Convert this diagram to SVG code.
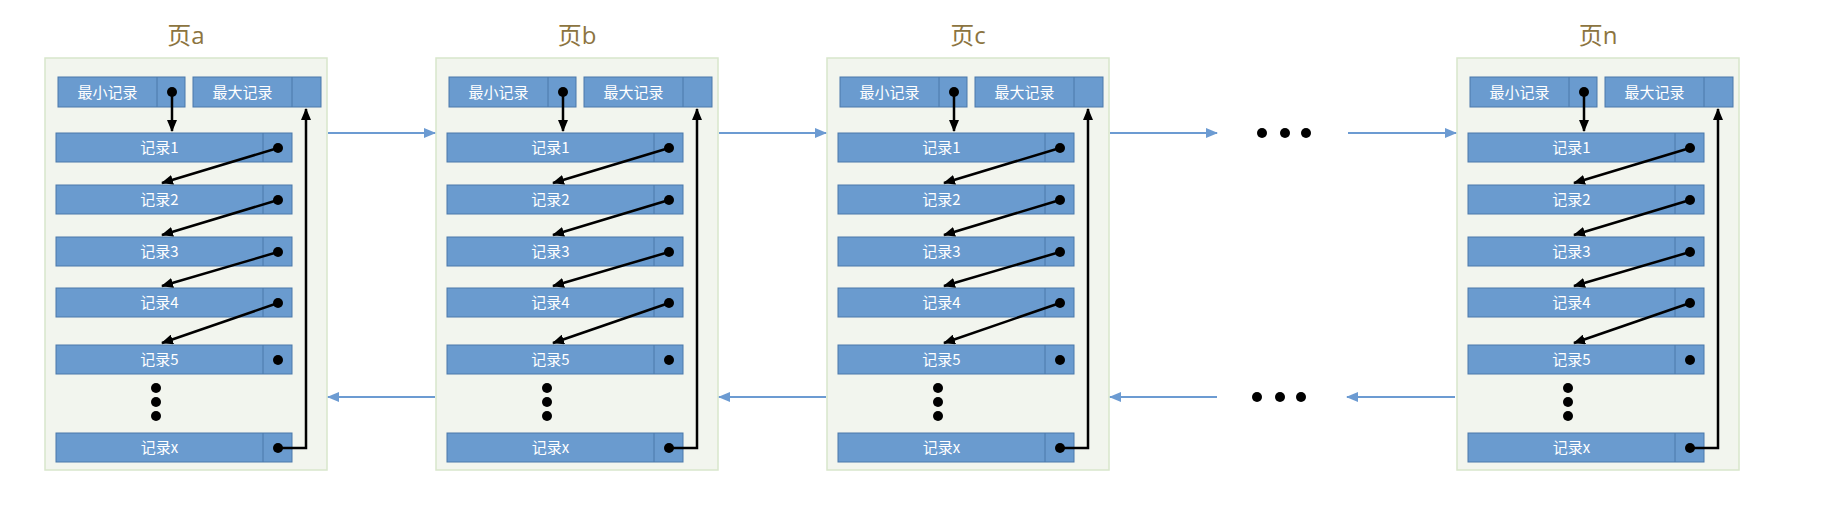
<svg xmlns="http://www.w3.org/2000/svg" width="1828" height="520" viewBox="0 0 1828 520">
<style>
.page{fill:#F2F5EE;stroke:#D8E6CB;stroke-width:1.5}
.title{font-family:"Open Sans","Noto Sans CJK SC",sans-serif;font-size:24px;fill:#8C7440;text-anchor:middle}
.box{fill:#6A9BCF;stroke:#4A78AA;stroke-width:1}
.div{stroke:#4A78AA;stroke-width:1}
.lbl{font-family:"Noto Sans CJK SC",sans-serif;font-size:15px;fill:#FFFFFF;text-anchor:middle}
.dot{fill:#000}
.ptr{stroke:#000;stroke-width:2.5;fill:none;marker-end:url(#ah)}
.link{stroke:#6C9BD2;stroke-width:2;fill:none;marker-end:url(#bh)}
</style>
<defs>
<marker id="ah" markerWidth="12" markerHeight="10" refX="11" refY="5" orient="auto" markerUnits="userSpaceOnUse"><path d="M0,0 L12,5 L0,10 z" fill="#000"/></marker>
<marker id="bh" markerWidth="12" markerHeight="10" refX="11" refY="5" orient="auto" markerUnits="userSpaceOnUse"><path d="M0,0 L12,5 L0,10 z" fill="#6C9BD2"/></marker>
</defs>
<rect width="1828" height="520" fill="#FFFFFF"/>

<g id="page-a" transform="translate(45,0)">
<rect class="page" x="0" y="58" width="282" height="412"/>
<text class="title" x="141" y="44">页a</text>
<g id="a-min"><rect class="box" x="13" y="77" width="127" height="30"/><line class="div" x1="112" y1="77" x2="112" y2="107"/><text class="lbl" x="62.5" y="97.5">最小记录</text><circle class="dot" cx="127" cy="92" r="5"/></g>
<g id="a-max"><rect class="box" x="148" y="77" width="128" height="30"/><line class="div" x1="247" y1="77" x2="247" y2="107"/><text class="lbl" x="197.5" y="97.5">最大记录</text></g>
<g id="a-r1"><rect class="box" x="11" y="133" width="236" height="29"/><line class="div" x1="218" y1="133" x2="218" y2="162"/><text class="lbl" x="114.5" y="153">记录1</text><circle class="dot" cx="233" cy="148" r="5"/></g>
<g id="a-r2"><rect class="box" x="11" y="185" width="236" height="29"/><line class="div" x1="218" y1="185" x2="218" y2="214"/><text class="lbl" x="114.5" y="205">记录2</text><circle class="dot" cx="233" cy="200" r="5"/></g>
<g id="a-r3"><rect class="box" x="11" y="237" width="236" height="29"/><line class="div" x1="218" y1="237" x2="218" y2="266"/><text class="lbl" x="114.5" y="257">记录3</text><circle class="dot" cx="233" cy="252" r="5"/></g>
<g id="a-r4"><rect class="box" x="11" y="288" width="236" height="29"/><line class="div" x1="218" y1="288" x2="218" y2="317"/><text class="lbl" x="114.5" y="308">记录4</text><circle class="dot" cx="233" cy="303" r="5"/></g>
<g id="a-r5"><rect class="box" x="11" y="345" width="236" height="29"/><line class="div" x1="218" y1="345" x2="218" y2="374"/><text class="lbl" x="114.5" y="365">记录5</text><circle class="dot" cx="233" cy="360" r="5"/></g>
<g id="a-more"><circle class="dot" cx="111" cy="388" r="5"/><circle class="dot" cx="111" cy="402" r="5"/><circle class="dot" cx="111" cy="416" r="5"/></g>
<g id="a-rx"><rect class="box" x="11" y="433" width="236" height="29"/><line class="div" x1="218" y1="433" x2="218" y2="462"/><text class="lbl" x="114.5" y="453">记录x</text><circle class="dot" cx="233" cy="448" r="5"/></g>
<g id="a-ptrs">
<line class="ptr" x1="127" y1="92" x2="127" y2="131"/>
<line class="ptr" x1="233" y1="148" x2="117" y2="183"/>
<line class="ptr" x1="233" y1="200" x2="117" y2="235"/>
<line class="ptr" x1="233" y1="252" x2="117" y2="286"/>
<line class="ptr" x1="233" y1="303" x2="117" y2="343"/>
<path class="ptr" d="M233,448 H261 V109"/>
</g>
</g>

<g id="page-b" transform="translate(436,0)">
<rect class="page" x="0" y="58" width="282" height="412"/>
<text class="title" x="141" y="44">页b</text>
<g id="b-min"><rect class="box" x="13" y="77" width="127" height="30"/><line class="div" x1="112" y1="77" x2="112" y2="107"/><text class="lbl" x="62.5" y="97.5">最小记录</text><circle class="dot" cx="127" cy="92" r="5"/></g>
<g id="b-max"><rect class="box" x="148" y="77" width="128" height="30"/><line class="div" x1="247" y1="77" x2="247" y2="107"/><text class="lbl" x="197.5" y="97.5">最大记录</text></g>
<g id="b-r1"><rect class="box" x="11" y="133" width="236" height="29"/><line class="div" x1="218" y1="133" x2="218" y2="162"/><text class="lbl" x="114.5" y="153">记录1</text><circle class="dot" cx="233" cy="148" r="5"/></g>
<g id="b-r2"><rect class="box" x="11" y="185" width="236" height="29"/><line class="div" x1="218" y1="185" x2="218" y2="214"/><text class="lbl" x="114.5" y="205">记录2</text><circle class="dot" cx="233" cy="200" r="5"/></g>
<g id="b-r3"><rect class="box" x="11" y="237" width="236" height="29"/><line class="div" x1="218" y1="237" x2="218" y2="266"/><text class="lbl" x="114.5" y="257">记录3</text><circle class="dot" cx="233" cy="252" r="5"/></g>
<g id="b-r4"><rect class="box" x="11" y="288" width="236" height="29"/><line class="div" x1="218" y1="288" x2="218" y2="317"/><text class="lbl" x="114.5" y="308">记录4</text><circle class="dot" cx="233" cy="303" r="5"/></g>
<g id="b-r5"><rect class="box" x="11" y="345" width="236" height="29"/><line class="div" x1="218" y1="345" x2="218" y2="374"/><text class="lbl" x="114.5" y="365">记录5</text><circle class="dot" cx="233" cy="360" r="5"/></g>
<g id="b-more"><circle class="dot" cx="111" cy="388" r="5"/><circle class="dot" cx="111" cy="402" r="5"/><circle class="dot" cx="111" cy="416" r="5"/></g>
<g id="b-rx"><rect class="box" x="11" y="433" width="236" height="29"/><line class="div" x1="218" y1="433" x2="218" y2="462"/><text class="lbl" x="114.5" y="453">记录x</text><circle class="dot" cx="233" cy="448" r="5"/></g>
<g id="b-ptrs">
<line class="ptr" x1="127" y1="92" x2="127" y2="131"/>
<line class="ptr" x1="233" y1="148" x2="117" y2="183"/>
<line class="ptr" x1="233" y1="200" x2="117" y2="235"/>
<line class="ptr" x1="233" y1="252" x2="117" y2="286"/>
<line class="ptr" x1="233" y1="303" x2="117" y2="343"/>
<path class="ptr" d="M233,448 H261 V109"/>
</g>
</g>

<g id="page-c" transform="translate(827,0)">
<rect class="page" x="0" y="58" width="282" height="412"/>
<text class="title" x="141" y="44">页c</text>
<g id="c-min"><rect class="box" x="13" y="77" width="127" height="30"/><line class="div" x1="112" y1="77" x2="112" y2="107"/><text class="lbl" x="62.5" y="97.5">最小记录</text><circle class="dot" cx="127" cy="92" r="5"/></g>
<g id="c-max"><rect class="box" x="148" y="77" width="128" height="30"/><line class="div" x1="247" y1="77" x2="247" y2="107"/><text class="lbl" x="197.5" y="97.5">最大记录</text></g>
<g id="c-r1"><rect class="box" x="11" y="133" width="236" height="29"/><line class="div" x1="218" y1="133" x2="218" y2="162"/><text class="lbl" x="114.5" y="153">记录1</text><circle class="dot" cx="233" cy="148" r="5"/></g>
<g id="c-r2"><rect class="box" x="11" y="185" width="236" height="29"/><line class="div" x1="218" y1="185" x2="218" y2="214"/><text class="lbl" x="114.5" y="205">记录2</text><circle class="dot" cx="233" cy="200" r="5"/></g>
<g id="c-r3"><rect class="box" x="11" y="237" width="236" height="29"/><line class="div" x1="218" y1="237" x2="218" y2="266"/><text class="lbl" x="114.5" y="257">记录3</text><circle class="dot" cx="233" cy="252" r="5"/></g>
<g id="c-r4"><rect class="box" x="11" y="288" width="236" height="29"/><line class="div" x1="218" y1="288" x2="218" y2="317"/><text class="lbl" x="114.5" y="308">记录4</text><circle class="dot" cx="233" cy="303" r="5"/></g>
<g id="c-r5"><rect class="box" x="11" y="345" width="236" height="29"/><line class="div" x1="218" y1="345" x2="218" y2="374"/><text class="lbl" x="114.5" y="365">记录5</text><circle class="dot" cx="233" cy="360" r="5"/></g>
<g id="c-more"><circle class="dot" cx="111" cy="388" r="5"/><circle class="dot" cx="111" cy="402" r="5"/><circle class="dot" cx="111" cy="416" r="5"/></g>
<g id="c-rx"><rect class="box" x="11" y="433" width="236" height="29"/><line class="div" x1="218" y1="433" x2="218" y2="462"/><text class="lbl" x="114.5" y="453">记录x</text><circle class="dot" cx="233" cy="448" r="5"/></g>
<g id="c-ptrs">
<line class="ptr" x1="127" y1="92" x2="127" y2="131"/>
<line class="ptr" x1="233" y1="148" x2="117" y2="183"/>
<line class="ptr" x1="233" y1="200" x2="117" y2="235"/>
<line class="ptr" x1="233" y1="252" x2="117" y2="286"/>
<line class="ptr" x1="233" y1="303" x2="117" y2="343"/>
<path class="ptr" d="M233,448 H261 V109"/>
</g>
</g>

<g id="page-n" transform="translate(1457,0)">
<rect class="page" x="0" y="58" width="282" height="412"/>
<text class="title" x="141" y="44">页n</text>
<g id="n-min"><rect class="box" x="13" y="77" width="127" height="30"/><line class="div" x1="112" y1="77" x2="112" y2="107"/><text class="lbl" x="62.5" y="97.5">最小记录</text><circle class="dot" cx="127" cy="92" r="5"/></g>
<g id="n-max"><rect class="box" x="148" y="77" width="128" height="30"/><line class="div" x1="247" y1="77" x2="247" y2="107"/><text class="lbl" x="197.5" y="97.5">最大记录</text></g>
<g id="n-r1"><rect class="box" x="11" y="133" width="236" height="29"/><line class="div" x1="218" y1="133" x2="218" y2="162"/><text class="lbl" x="114.5" y="153">记录1</text><circle class="dot" cx="233" cy="148" r="5"/></g>
<g id="n-r2"><rect class="box" x="11" y="185" width="236" height="29"/><line class="div" x1="218" y1="185" x2="218" y2="214"/><text class="lbl" x="114.5" y="205">记录2</text><circle class="dot" cx="233" cy="200" r="5"/></g>
<g id="n-r3"><rect class="box" x="11" y="237" width="236" height="29"/><line class="div" x1="218" y1="237" x2="218" y2="266"/><text class="lbl" x="114.5" y="257">记录3</text><circle class="dot" cx="233" cy="252" r="5"/></g>
<g id="n-r4"><rect class="box" x="11" y="288" width="236" height="29"/><line class="div" x1="218" y1="288" x2="218" y2="317"/><text class="lbl" x="114.5" y="308">记录4</text><circle class="dot" cx="233" cy="303" r="5"/></g>
<g id="n-r5"><rect class="box" x="11" y="345" width="236" height="29"/><line class="div" x1="218" y1="345" x2="218" y2="374"/><text class="lbl" x="114.5" y="365">记录5</text><circle class="dot" cx="233" cy="360" r="5"/></g>
<g id="n-more"><circle class="dot" cx="111" cy="388" r="5"/><circle class="dot" cx="111" cy="402" r="5"/><circle class="dot" cx="111" cy="416" r="5"/></g>
<g id="n-rx"><rect class="box" x="11" y="433" width="236" height="29"/><line class="div" x1="218" y1="433" x2="218" y2="462"/><text class="lbl" x="114.5" y="453">记录x</text><circle class="dot" cx="233" cy="448" r="5"/></g>
<g id="n-ptrs">
<line class="ptr" x1="127" y1="92" x2="127" y2="131"/>
<line class="ptr" x1="233" y1="148" x2="117" y2="183"/>
<line class="ptr" x1="233" y1="200" x2="117" y2="235"/>
<line class="ptr" x1="233" y1="252" x2="117" y2="286"/>
<line class="ptr" x1="233" y1="303" x2="117" y2="343"/>
<path class="ptr" d="M233,448 H261 V109"/>
</g>
</g>

<g id="ellipsis-top"><circle class="dot" cx="1262" cy="133" r="5"/><circle class="dot" cx="1285" cy="133" r="5"/><circle class="dot" cx="1306" cy="133" r="5"/></g>
<g id="ellipsis-bottom"><circle class="dot" cx="1257" cy="397" r="5"/><circle class="dot" cx="1280" cy="397" r="5"/><circle class="dot" cx="1301" cy="397" r="5"/></g>

<g id="connectors">
<line class="link" x1="328" y1="133" x2="435" y2="133"/>
<line class="link" x1="719" y1="133" x2="826" y2="133"/>
<line class="link" x1="1110" y1="133" x2="1217" y2="133"/>
<line class="link" x1="1348" y1="133" x2="1456" y2="133"/>
<line class="link" x1="435" y1="397" x2="328" y2="397"/>
<line class="link" x1="826" y1="397" x2="719" y2="397"/>
<line class="link" x1="1217" y1="397" x2="1110" y2="397"/>
<line class="link" x1="1455" y1="397" x2="1347" y2="397"/>
</g>
</svg>
